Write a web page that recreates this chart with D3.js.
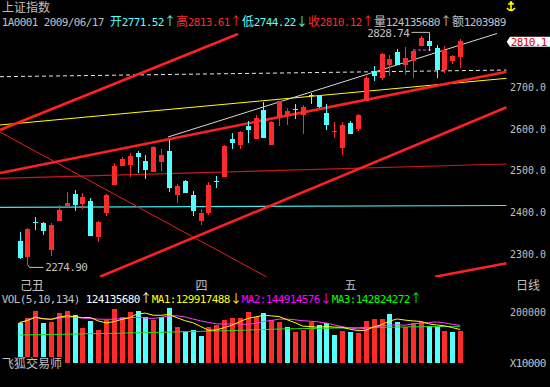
<!DOCTYPE html>
<html>
<head>
<meta charset="utf-8">
<script src="https://cdn.jsdelivr.net/npm/d3@7"></script>
<style>
  body { margin: 0; background: #000; }
  svg { display: block; }
</style>
</head>
<body>
<div id="chart"></div>
<script>
/* CONSTANTS AND GLOBALS */
const width = 550, height = 387;
const MONO = "'DejaVu Sans Mono', monospace";
const CJK = "'Noto Sans CJK SC', 'Noto Sans', sans-serif";
const RED = "#ff2a2a", CYAN = "#54ffff", GRAY = "#c0c0c0";

/* DATA */
const opens = [2331.6, 2293.4, 2377.1, 2373.3, 2309.4, 2379.5, 2415.4, 2443.3, 2419.4, 2426.6,
  2339.8, 2397.2, 2464.9, 2510.3, 2512.7, 2542.1, 2523.0, 2496.7, 2520.6, 2546.2,
  2440.9, 2474.4, 2440.9, 2379.5, 2398.6, 2474.4, 2484.7, 2574.2, 2559.8, 2606.7,
  2575.6, 2645.0, 2561.3, 2626.8, 2629.2, 2645.9, 2631.6, 2679.0, 2678.5, 2637.1,
  2592.4, 2553.4, 2613.2, 2599.5, 2666.5, 2738.3, 2720.8, 2752.6, 2783.0, 2752.6,
  2760.8, 2796.6, 2810.0, 2792.6, 2740.7, 2760.8, 2771.52];
const highs = [2353.1, 2362.0, 2389.0, 2377.1, 2373.3, 2417.0, 2448.8, 2452.9, 2446.4, 2433.0,
  2378.8, 2443.3, 2518.2, 2531.1, 2540.7, 2546.2, 2536.6, 2558.2, 2550.3, 2572.5,
  2466.5, 2476.8, 2450.5, 2406.7, 2472.8, 2486.4, 2559.4, 2588.1, 2593.3, 2618.7,
  2631.6, 2663.4, 2617.2, 2666.5, 2649.0, 2658.6, 2657.0, 2684.9, 2680.9, 2658.6,
  2614.8, 2615.6, 2617.2, 2634.7, 2724.9, 2748.8, 2780.6, 2776.5, 2790.9, 2794.2,
  2790.9, 2820.6, 2828.74, 2800.5, 2796.6, 2776.5, 2813.61];
const lows = [2286.7, 2274.90, 2357.2, 2345.3, 2295.0, 2378.8, 2414.6, 2403.4, 2407.5, 2341.7,
  2329.2, 2390.7, 2463.7, 2509.1, 2484.7, 2494.3, 2478.5, 2496.0, 2499.1, 2448.8,
  2421.1, 2444.5, 2390.7, 2369.2, 2393.1, 2458.4, 2484.0, 2549.8, 2551.7, 2565.3,
  2574.9, 2576.1, 2559.8, 2605.3, 2609.1, 2623.5, 2586.9, 2658.6, 2649.0, 2597.1,
  2577.3, 2535.9, 2585.7, 2593.3, 2665.1, 2714.4, 2716.7, 2724.9, 2751.2, 2728.7,
  2720.8, 2796.2, 2786.1, 2720.8, 2732.8, 2754.3, 2744.22];
const closes = [2289.5, 2359.6, 2373.3, 2354.8, 2369.2, 2405.1, 2422.5, 2417.0, 2436.9, 2342.9,
  2377.1, 2440.9, 2510.3, 2526.3, 2534.2, 2532.6, 2500.7, 2556.5, 2536.6, 2457.0,
  2462.5, 2446.4, 2403.4, 2398.6, 2464.9, 2472.0, 2558.2, 2566.1, 2591.6, 2597.1,
  2625.1, 2577.3, 2614.8, 2665.1, 2641.2, 2644.3, 2650.7, 2677.0, 2650.7, 2609.1,
  2594.0, 2609.1, 2586.9, 2631.6, 2720.8, 2724.9, 2778.2, 2766.3, 2752.6, 2768.7,
  2786.1, 2816.5, 2796.6, 2740.7, 2788.5, 2774.2, 2810.12];

// volume, millions
const volumes = [157, 174, 204, 155, 161, 196, 204, 187, 135, 165,
  128, 167, 209, 180, 199, 204, 180, 167, 180, 215,
  141, 122, 128, 106, 139, 148, 167, 176, 176, 200,
  180, 196, 167, 161, 139, 122, 128, 158, 148, 155,
  109, 124, 122, 118, 164, 171, 171, 191, 161, 141,
  155, 161, 144, 139, 125, 119, 124.14];
// MA3 (134 days), millions
const ma134 = [109, 109, 110, 110, 111, 111, 112, 112, 113, 114,
  114, 115, 115, 116, 117, 117, 118, 119, 119, 120,
  121, 122, 122, 123, 124, 125, 125, 126, 127, 128,
  129, 130, 131, 132, 133, 133, 134, 134, 135, 135,
  136, 136, 137, 137, 138, 138, 139, 139, 140, 140,
  141, 141, 141, 142, 142, 142.5, 142.8];

const priceTicks = [2300, 2400, 2500, 2600, 2700];
const volTicks = [200];

// drawn lines on the price pane: [index0, price0, index1, price1]
const channelLines = [
  [-2.48, 2596.4, 27.76, 2826.1],
  [-2.48, 2493.6, 61.9, 2735.9],
  [10.23, 2245.5, 61.9, 2650.7],
  [52.8, 2245.5, 61.9, 2277.6]
];
const fanLine = [-2.48, 2591.6, 31.58, 2243.1];
const darkRedLine = [-2.48, 2480.9, 61.9, 2515.1];
const cyanLine = [-2.48, 2411.5, 61.9, 2415.8];
const yellowLine = [-2.48, 2608.4, 61.9, 2720.1];
const dashedLine = [-2.48, 2723.9, 61.9, 2739.9];
const whiteLine = [18.87, 2579.7, 60.67, 2827.3];
const magentaLine = [50.0, 2787.8, 52.54, 2787.8];

const monthLabels = [{ i: 23, t: "四" }, { i: 42, t: "五" }];

/* HELPERS */
// bitmap-like text: ascii 6px cells, wide chars 12px cells
function cellText(g, x0, yBase, segs) {
  let x = x0;
  segs.forEach(([str, color]) => {
    for (const ch of str) {
      const wide = ch.charCodeAt(0) > 255;
      const w = wide ? 12 : 6;
      g.append("text")
        .attr("x", x + w / 2)
        .attr("y", yBase)
        .attr("text-anchor", "middle")
        .attr("fill", color)
        .style("font-family", wide ? CJK : MONO)
        .style("font-size", wide ? "12px" : "11px")
        .text(ch);
      x += w;
    }
  });
  return x;
}

function movingAvg(arr, n) {
  return arr.map((d, i) => d3.mean(arr.slice(Math.max(0, i - n + 1), i + 1)));
}

/* SVG */
const svg = d3.select("#chart").append("svg")
  .attr("width", width).attr("height", height)
  .style("background", "#000");

/* SCALES */
const xLin = d3.scaleLinear().domain([0, opens.length - 1]).range([19.5, 460.2]);
const yPrice = d3.scaleLinear().domain([2300, 2700]).range([253.9, 86.7]);
const yVol = d3.scaleLinear().domain([0, 200]).range([362.7, 311.7]);
const cx = i => Math.round(xLin(i));

svg.append("defs").append("clipPath").attr("id", "pane")
  .append("rect").attr("x", 0).attr("y", 27).attr("width", 506.7).attr("height", 250);

/* HEADER */
const header = svg.append("g");
cellText(header, 2, 12, [["上证指数", GRAY]]);
cellText(header, 2, 25.5, [
  ["1A0001 2009/06/17 ", GRAY],
  ["开2771.52↑", CYAN],
  ["高2813.61↑", RED],
  ["低2744.22↓", CYAN],
  ["收2810.12↑", RED],
  ["量124135680↑", GRAY],
  ["额1203989", GRAY]
]);
// small yellow marker at top right
svg.append("path")
  .attr("d", "M511,2 L511,11 M508,4 L514,4 M507,8 Q511,13 515,8")
  .attr("stroke", "#ffff00").attr("stroke-width", 1.6).attr("fill", "none");
svg.append("circle").attr("cx", 511).attr("cy", 2.5).attr("r", 1.5).attr("fill", "#ffff00");

/* PRICE LINES */
const lineG = svg.append("g").attr("clip-path", "url(#pane)");
function drawLine(l, color, w, dash) {
  lineG.append("line")
    .attr("x1", xLin(l[0])).attr("y1", yPrice(l[1]))
    .attr("x2", xLin(l[2])).attr("y2", yPrice(l[3]))
    .attr("stroke", color).attr("stroke-width", w)
    .attr("stroke-dasharray", dash || null);
}
drawLine(dashedLine, "#e8e8e8", 1, "4,3");
drawLine(yellowLine, "#ffff00", 1);
drawLine(cyanLine, "#40e8e8", 1.2);
drawLine(darkRedLine, "#c81818", 1.2);
drawLine(fanLine, "#e82020", 1);
drawLine(whiteLine, "#d8d8d8", 1);
drawLine(magentaLine, "#ff40ff", 1, "3,2");
channelLines.forEach(l => drawLine(l, "#ff2020", 2.6));

/* CANDLES */
const candleG = svg.append("g").attr("shape-rendering", "crispEdges");
opens.forEach((o, i) => {
  const c = closes[i];
  const col = c >= o ? RED : CYAN;
  const x = cx(i);
  candleG.append("line")
    .attr("x1", x + 0.5).attr("x2", x + 0.5)
    .attr("y1", yPrice(highs[i])).attr("y2", yPrice(lows[i]))
    .attr("stroke", col).attr("stroke-width", 1);
  const yTop = yPrice(Math.max(o, c)), yBot = yPrice(Math.min(o, c));
  candleG.append("rect")
    .attr("x", x - 2).attr("width", 5)
    .attr("y", yTop).attr("height", Math.max(1, yBot - yTop))
    .attr("fill", col);
});

/* HIGH / LOW MARKERS */
const hi = d3.maxIndex(highs), lo = d3.minIndex(lows);
const hx = cx(hi) + 0.5, hy = yPrice(highs[hi]) - 0.5;
svg.append("polyline")
  .attr("points", `${hx - 18},${hy} ${hx},${hy} ${hx},${hy + 4}`)
  .attr("fill", "none").attr("stroke", GRAY).attr("stroke-width", 1);
cellText(svg, hx - 62, hy + 4.5, [[highs[hi].toFixed(2), GRAY]]);

const lx = cx(lo) + 0.5, ly = yPrice(lows[lo]);
svg.append("polyline")
  .attr("points", `${lx},${ly} ${lx + 2},${ly + 3} ${lx + 16},${ly + 3}`)
  .attr("fill", "none").attr("stroke", GRAY).attr("stroke-width", 1);
cellText(svg, lx + 18, ly + 7, [[lows[lo].toFixed(2), GRAY]]);

/* PRICE AXIS */
const yAxis = d3.axisRight(yPrice).tickValues(priceTicks)
  .tickFormat(d3.format(".1f")).tickSize(0).tickPadding(0);
svg.append("g")
  .attr("transform", "translate(510,0)")
  .call(yAxis)
  .call(g => g.select(".domain").remove())
  .selectAll("text")
  .attr("fill", GRAY)
  .style("font-family", MONO).style("font-size", "11px")
  .attr("textLength", 36).attr("lengthAdjust", "spacingAndGlyphs");

// last price marker
const lastY = yPrice(closes[closes.length - 1]);
svg.append("path")
  .attr("d", `M506.7,${lastY + 1} L510,${lastY - 4} L550,${lastY - 4} L550,${lastY + 6} L510,${lastY + 6} Z`)
  .attr("fill", "#ffffff");
cellText(svg, 511, lastY + 5, [[d3.format(".1f")(closes[closes.length - 1]).slice(0, 6), "#e00000"]]);

/* DATE LABELS */
cellText(svg, 20, 290, [["己丑", GRAY]]);
monthLabels.forEach(m => cellText(svg, cx(m.i) - 6 + 0.5, 290, [[m.t, GRAY]]));
cellText(svg, 516, 290, [["日线", GRAY]]);

/* VOLUME PANE */
cellText(svg, 2, 303, [
  ["VOL(5,10,134) ", GRAY],
  ["124135680↑", "#ffffff"],
  ["MA1:129917488↓", "#ffff00"],
  ["MA2:144914576↓", "#ff00ff"],
  ["MA3:142824272↑", "#00ff00"]
]);

const volG = svg.append("g").attr("shape-rendering", "crispEdges");
volumes.forEach((v, i) => {
  const up = i === 0 ? closes[0] >= opens[0] : closes[i] >= closes[i - 1];
  volG.append("rect")
    .attr("x", cx(i) - 2).attr("width", 5)
    .attr("y", yVol(v)).attr("height", yVol(0) - yVol(v))
    .attr("fill", up ? RED : CYAN);
});

const ma5 = movingAvg(volumes, 5), ma10 = movingAvg(volumes, 10);
const maLine = d3.line().x((d, i) => xLin(i)).y(d => yVol(d));
[[ma134, "#20e020"], [ma10, "#ff40ff"], [ma5, "#ffff00"]].forEach(([s, col]) => {
  svg.append("path").datum(s).attr("d", maLine)
    .attr("fill", "none").attr("stroke", col).attr("stroke-width", 1);
});

const vAxis = d3.axisRight(yVol).tickValues(volTicks)
  .tickFormat(d => d3.format("d")(d * 1000)).tickSize(0).tickPadding(0);
svg.append("g")
  .attr("transform", "translate(510,0)")
  .call(vAxis)
  .call(g => g.select(".domain").remove())
  .selectAll("text")
  .attr("fill", GRAY)
  .style("font-family", MONO).style("font-size", "11px")
  .attr("textLength", 36).attr("lengthAdjust", "spacingAndGlyphs");
cellText(svg, 510, yVol(0) + 4, [["X10000", GRAY]]);

// software name sits on its own black box over the first bars
svg.append("rect").attr("x", 0).attr("y", 357).attr("width", 62).attr("height", 14).attr("fill", "#000");
cellText(svg, 2, 368, [["飞狐交易师", GRAY]]);
</script>
</body>
</html>
